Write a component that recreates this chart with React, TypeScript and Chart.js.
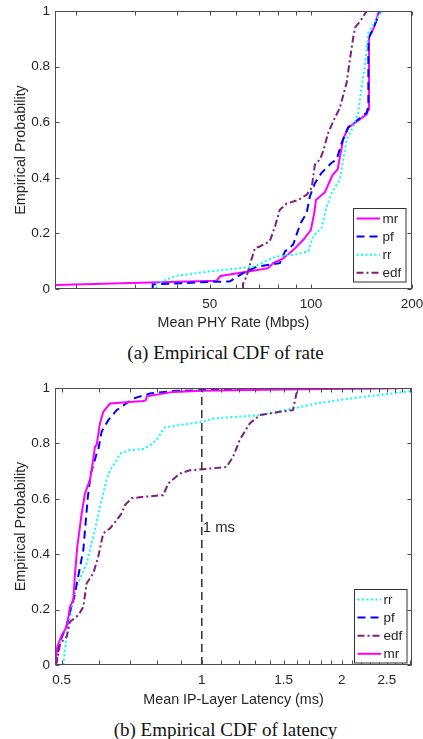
import React, { useEffect, useRef } from 'react';
import { Chart, registerables } from 'chart.js';

Chart.register(...registerables);

// ---------- shared ----------
const probTicks = [0, 0.2, 0.4, 0.6, 0.8, 1];

// ---------- (a) rate CDF ----------
const rateTicks = [20, 30, 40, 50, 60, 70, 80, 90, 100, 200];
const rateTickLabels = [50, 100, 200];
const rateMin = 17.3;
const rateMax = 200;

const rateMrX = [17.3, 17.3, 52.4, 53.8, 67.3, 74.6, 77.2, 82.7, 88.6, 94.9, 100, 102.3, 103.5, 110.1, 116, 120.1, 124.8, 129.2, 146.6, 148.3, 148.9, 153.4, 159.5];
const rateMrY = [0, 0.014, 0.03, 0.047, 0.066, 0.075, 0.093, 0.11, 0.14, 0.177, 0.213, 0.273, 0.32, 0.348, 0.41, 0.43, 0.54, 0.58, 0.628, 0.646, 0.905, 0.935, 1.0];

const ratePfX = [33.8, 33.8, 34.7, 51.2, 57.3, 62.8, 68.9, 80.8, 83.7, 88.6, 91.3, 93.8, 97.1, 99.3, 102.8, 107.6, 115.3, 119.3, 123.5, 129.2, 138.3, 146.6, 148.3, 148.3, 155.3, 161];
const ratePfY = [0, 0.016, 0.017, 0.026, 0.027, 0.057, 0.08, 0.093, 0.135, 0.16, 0.207, 0.243, 0.273, 0.333, 0.381, 0.418, 0.454, 0.466, 0.526, 0.582, 0.61, 0.634, 0.66, 0.9, 0.953, 1];

const rateRrX = [34.7, 34.7, 39.7, 48.8, 67.3, 79.0, 88.6, 98.2, 101.6, 107.6, 111.4, 115.3, 122.0, 124.8, 127.8, 133.9, 138.3, 141.6, 144.9, 146.6, 148.3, 162.6];
const rateRrY = [0, 0.02, 0.047, 0.062, 0.08, 0.117, 0.123, 0.135, 0.19, 0.22, 0.297, 0.345, 0.394, 0.466, 0.538, 0.586, 0.634, 0.73, 0.803, 0.863, 0.923, 1];

const rateEdfX = [62.8, 62.8, 64.3, 66.5, 68.1, 70.4, 75.4, 78.2, 80.8, 84.6, 91.6, 97.1, 100.5, 102.8, 106.4, 108.8, 112.6, 117.9, 122, 127.8, 130.7, 133.9, 135.3, 141.6, 146.6];
const rateEdfY = [0, 0.02, 0.045, 0.105, 0.147, 0.153, 0.171, 0.225, 0.285, 0.307, 0.32, 0.339, 0.363, 0.448, 0.466, 0.496, 0.562, 0.616, 0.652, 0.743, 0.827, 0.91, 0.94, 0.971, 1];

// ---------- (b) latency CDF ----------
const latTicks = [0.5, 0.6, 0.7, 0.8, 0.9, 1, 1.1, 1.2, 1.3, 1.4, 1.5, 1.6, 1.7, 1.8, 1.9, 2, 2.1, 2.2, 2.3, 2.4, 2.5, 2.6, 2.7, 2.8];
const latTickLabels = [0.5, 1, 1.5, 2, 2.5];
const latMin = 0.4836;
const latMax = 2.83;

const latRrX = [0.504, 0.5126, 0.5208, 0.538, 0.5656, 0.589, 0.604, 0.624, 0.6347, 0.656, 0.667, 0.7006, 0.748, 0.773, 0.799, 0.833, 0.897, 1.0, 1.057, 1.332, 1.57, 1.762, 2.078, 2.83];
const latRrY = [0, 0.114, 0.174, 0.283, 0.367, 0.487, 0.571, 0.668, 0.703, 0.739, 0.763, 0.776, 0.78, 0.793, 0.812, 0.858, 0.866, 0.878, 0.89, 0.902, 0.926, 0.944, 0.962, 0.989];

const latPfX = [0.486, 0.492, 0.5, 0.512, 0.522, 0.531, 0.5563, 0.569, 0.577, 0.5943, 0.599, 0.609, 0.6295, 0.656, 0.7123, 0.773, 0.868, 1.206, 1.519, 2.83];
const latPfY = [0, 0.06, 0.1, 0.14, 0.2, 0.24, 0.415, 0.607, 0.69, 0.763, 0.776, 0.842, 0.884, 0.92, 0.962, 0.98, 0.989, 0.997, 1, 1];

const latEdfX = [0.4836, 0.488, 0.496, 0.5126, 0.5208, 0.543, 0.5563, 0.5656, 0.5845, 0.599, 0.614, 0.6347, 0.656, 0.673, 0.684, 0.707, 0.748, 0.786, 0.826, 0.847, 0.897, 0.942, 1.023, 1.13, 1.167, 1.206, 1.268, 1.332, 1.47, 1.57, 1.597, 1.623, 2.83];
const latEdfY = [0, 0.012, 0.078, 0.102, 0.156, 0.18, 0.21, 0.295, 0.331, 0.391, 0.475, 0.493, 0.523, 0.548, 0.578, 0.602, 0.607, 0.61, 0.613, 0.655, 0.691, 0.703, 0.708, 0.715, 0.751, 0.812, 0.872, 0.902, 0.914, 0.92, 0.98, 0.997, 1];

const latMrX = [0.4836, 0.489, 0.5, 0.5126, 0.5208, 0.5294, 0.534, 0.54, 0.552, 0.561, 0.575, 0.5797, 0.5894, 0.5943, 0.6041, 0.6142, 0.6347, 0.748, 0.758, 0.762, 0.868, 1.0, 1.5, 2.83];
const latMrY = [0, 0.066, 0.108, 0.138, 0.21, 0.235, 0.331, 0.427, 0.548, 0.62, 0.668, 0.703, 0.788, 0.794, 0.872, 0.914, 0.944, 0.953, 0.956, 0.97, 0.986, 0.99, 0.995, 1];

const msLineX = [1, 1];
const msLineY = [0, 1];
const msLabel = '1 ms';
const msLabelAt = [1, 0.495];

// ---------- styles ----------
const SANS = '"Liberation Sans", Arial, Helvetica, sans-serif';
const SERIF = '"Liberation Serif", "Times New Roman", Times, serif';
const TEXT = '#262626';
const AXIS = '#4d4d4d';

const STYLES: Record<string, { color: string; dash: number[]; width: number }> = {
  mr: { color: '#ff00ff', dash: [], width: 2 },
  pf: { color: '#0000ff', dash: [8, 5], width: 2 },
  rr: { color: '#00ffff', dash: [2, 2.5], width: 2 },
  edf: { color: '#7e1e80', dash: [7, 3, 2, 3], width: 2 },
};

function pts(xs: number[], ys: number[]) {
  return xs.map((x, i) => ({ x, y: ys[i] }));
}

function series(label: string, xs: number[], ys: number[]) {
  const s = STYLES[label];
  return {
    label,
    data: pts(xs, ys),
    borderColor: s.color,
    backgroundColor: s.color,
    borderDash: s.dash,
    borderWidth: s.width,
    pointRadius: 0,
    tension: 0,
    fill: false,
  };
}

const framePlugin = {
  id: 'frame',
  afterDatasetsDraw(chart: any, _args: any, opts: any) {
    const { ctx, chartArea: a, scales } = chart;
    const xs = scales.x;
    const ys = scales.y;
    ctx.save();
    ctx.setLineDash([]);
    ctx.strokeStyle = AXIS;
    ctx.lineWidth = 1;
    const L = Math.round(a.left) + 0.5;
    const R = Math.round(a.right) - 0.5;
    const T = Math.round(a.top) + 0.5;
    const B = Math.round(a.bottom) - 0.5;
    ctx.strokeRect(L, T, R - L, B - T);
    const tl = 4;
    ctx.beginPath();
    for (const v of opts.xTicks) {
      const px = Math.round(xs.getPixelForValue(v)) + 0.5;
      ctx.moveTo(px, B);
      ctx.lineTo(px, B - tl);
      ctx.moveTo(px, T);
      ctx.lineTo(px, T + tl);
    }
    for (const v of opts.yTicks) {
      const py = Math.round(ys.getPixelForValue(v)) + 0.5;
      ctx.moveTo(L, py);
      ctx.lineTo(L + tl, py);
      ctx.moveTo(R, py);
      ctx.lineTo(R - tl, py);
    }
    ctx.stroke();

    // annotation text
    if (opts.note) {
      ctx.fillStyle = TEXT;
      ctx.font = `14.8px ${SANS}`;
      ctx.textAlign = 'left';
      ctx.textBaseline = 'middle';
      ctx.fillText(opts.note.text, xs.getPixelForValue(opts.note.at[0]) + 1, ys.getPixelForValue(opts.note.at[1]));
    }

    // legend
    const lg = opts.legend;
    const items = chart.data.datasets.filter((d: any) => d.label);
    const bx = Math.round(a.right - lg.rightGap - lg.w) + 0.5;
    const by = Math.round(a.bottom - lg.bottomGap - lg.h) + 0.5;
    ctx.fillStyle = '#ffffff';
    ctx.fillRect(bx, by, lg.w, lg.h);
    ctx.strokeStyle = '#333333';
    ctx.lineWidth = 1;
    ctx.strokeRect(bx, by, lg.w, lg.h);
    ctx.font = `13.5px ${SANS}`;
    ctx.textAlign = 'left';
    ctx.textBaseline = 'middle';
    items.forEach((d: any, i: number) => {
      const y = by + lg.firstRow + i * lg.rowGap;
      ctx.strokeStyle = d.borderColor;
      ctx.lineWidth = d.borderWidth;
      ctx.setLineDash(d.borderDash || []);
      ctx.beginPath();
      ctx.moveTo(bx + 3, y);
      ctx.lineTo(bx + 26.5, y);
      ctx.stroke();
      ctx.setLineDash([]);
      ctx.fillStyle = TEXT;
      ctx.fillText(d.label, bx + 29, y + 0.5);
    });
    ctx.restore();
  },
};

function buildConfig(p: {
  datasets: any[];
  xMin: number;
  xMax: number;
  xTicks: number[];
  xLabels: number[];
  xTitle: string;
  padTop: number;
  xAxisHeight: number;
  legend: any;
  note?: any;
}) {
  const n = p.datasets.length;
  const datasets = p.datasets.map((d, i) => ({ ...d, order: n - i }));
  return {
    type: 'line',
    data: { datasets },
    options: {
      animation: false,
      responsive: false,
      events: [],
      layout: { padding: { top: p.padTop, right: 11, left: 0, bottom: 0 } },
      plugins: {
        legend: { display: false },
        tooltip: { enabled: false },
        frame: { xTicks: p.xTicks, yTicks: probTicks, legend: p.legend, note: p.note },
      },
      scales: {
        x: {
          type: 'logarithmic',
          min: p.xMin,
          max: p.xMax,
          afterBuildTicks: (s: any) => {
            s.ticks = p.xTicks.map((v) => ({ value: v }));
          },
          afterFit: (s: any) => {
            s.height = p.xAxisHeight;
            s.paddingLeft = 0;
            s.paddingRight = 0;
          },
          grid: { display: false, drawTicks: false },
          border: { display: false },
          ticks: {
            autoSkip: false,
            maxRotation: 0,
            minRotation: 0,
            padding: 7,
            color: TEXT,
            font: { family: SANS, size: 13.5 },
            callback: (v: any) => (p.xLabels.includes(v) ? String(v) : ''),
          },
          title: {
            display: true,
            text: p.xTitle,
            color: TEXT,
            font: { family: SANS, size: 14.3 },
            padding: { top: 0, bottom: 3.4 },
          },
        },
        y: {
          type: 'linear',
          min: 0,
          max: 1,
          afterBuildTicks: (s: any) => {
            s.ticks = probTicks.map((v) => ({ value: v }));
          },
          afterFit: (s: any) => {
            s.width = 55;
            s.paddingTop = 0;
            s.paddingBottom = 0;
          },
          grid: { display: false, drawTicks: false },
          border: { display: false },
          ticks: {
            padding: 5,
            color: TEXT,
            font: { family: SANS, size: 13.5 },
            callback: (v: any) => String(v),
          },
          title: {
            display: true,
            text: 'Empirical Probability',
            color: TEXT,
            font: { family: SANS, size: 14.3 },
            padding: { top: 12.4, bottom: 0 },
          },
        },
      },
    },
    plugins: [framePlugin],
  } as any;
}

const legendBox = { w: 52.5, h: 73.5, firstRow: 10, rowGap: 18.1 };

function rateConfig() {
  return buildConfig({
    datasets: [
      series('mr', rateMrX, rateMrY),
      series('pf', ratePfX, ratePfY),
      series('rr', rateRrX, rateRrY),
      series('edf', rateEdfX, rateEdfY),
    ],
    xMin: rateMin,
    xMax: rateMax,
    xTicks: rateTicks,
    xLabels: rateTickLabels,
    xTitle: 'Mean PHY Rate (Mbps)',
    padTop: 11,
    xAxisHeight: 46,
    legend: { ...legendBox, rightGap: 6.5, bottomGap: 7.5 },
  });
}

function latencyConfig() {
  return buildConfig({
    datasets: [
      series('rr', latRrX, latRrY),
      series('pf', latPfX, latPfY),
      series('edf', latEdfX, latEdfY),
      series('mr', latMrX, latMrY),
      {
        data: pts(msLineX, msLineY),
        borderColor: '#333333',
        borderDash: [8, 5],
        borderWidth: 1.5,
        pointRadius: 0,
        fill: false,
      },
    ],
    xMin: latMin,
    xMax: latMax,
    xTicks: latTicks,
    xLabels: latTickLabels,
    xTitle: 'Mean IP-Layer Latency (ms)',
    padTop: 18,
    xAxisHeight: 47,
    legend: { ...legendBox, rightGap: 6, bottomGap: 3 },
    note: { text: msLabel, at: msLabelAt },
  });
}

function ChartCanvas({ top, height, make }: { top: number; height: number; make: () => any }) {
  const ref = useRef<HTMLCanvasElement>(null);
  useEffect(() => {
    const chart = new Chart(ref.current as HTMLCanvasElement, make());
    return () => chart.destroy();
  }, []);
  return (
    <canvas
      ref={ref}
      width={423}
      height={height}
      style={{ position: 'absolute', left: 0, top, width: 423, height }}
    />
  );
}

function Caption({ text, centerY }: { text: string; centerY: number }) {
  return (
    <div
      style={{
        position: 'absolute',
        left: 0,
        width: 451,
        top: centerY - 11,
        height: 22,
        lineHeight: '22px',
        textAlign: 'center',
        fontFamily: SERIF,
        fontSize: 19,
        color: '#111',
        whiteSpace: 'nowrap',
      }}
    >
      {text}
    </div>
  );
}

export default function App() {
  return (
    <div
      style={{
        position: 'fixed',
        left: 0,
        top: 0,
        width: 423,
        height: 739,
        background: '#ffffff',
        overflow: 'hidden',
      }}
    >
      <ChartCanvas top={0} height={335} make={rateConfig} />
      <Caption text="(a) Empirical CDF of rate" centerY={353} />
      <ChartCanvas top={370} height={342} make={latencyConfig} />
      <Caption text="(b) Empirical CDF of latency" centerY={730} />
    </div>
  );
}
